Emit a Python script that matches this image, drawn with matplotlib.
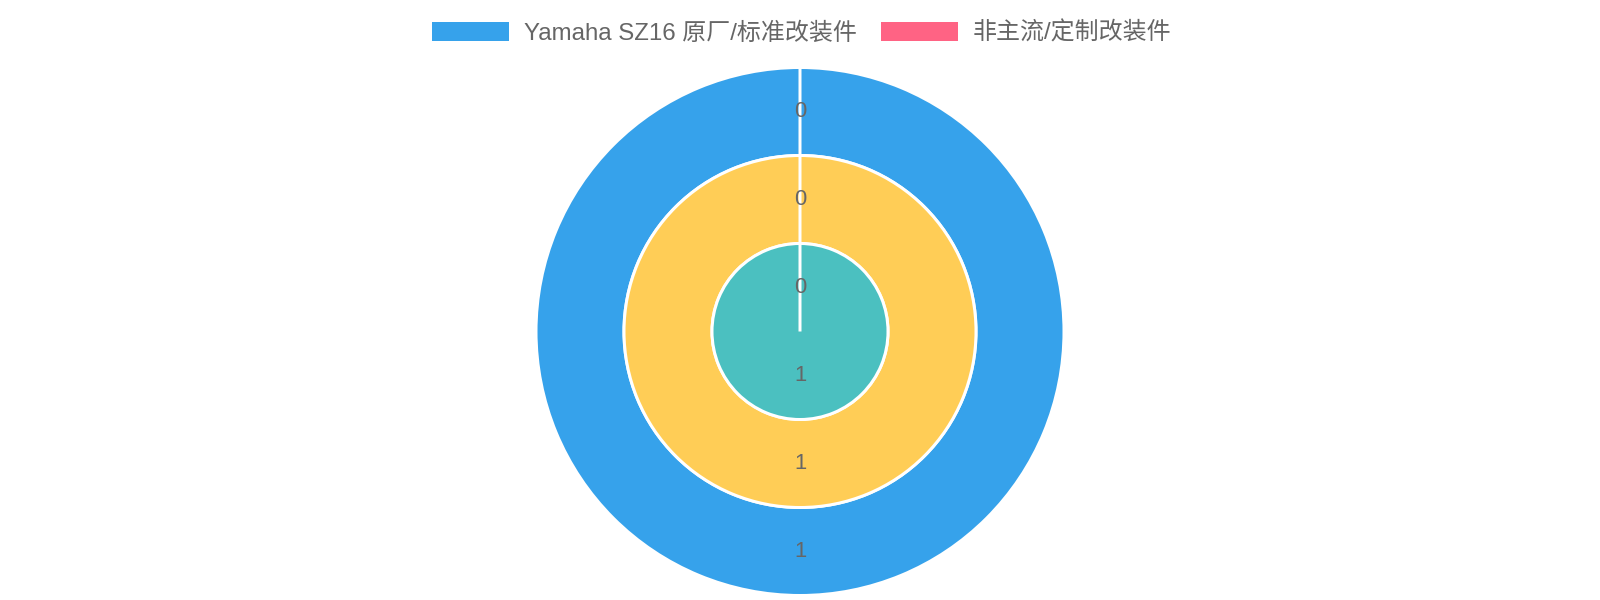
import matplotlib
matplotlib.use("Agg")
import matplotlib.pyplot as plt
from matplotlib.patches import Patch
import numpy as np

# ---- data ----
labels = ['Yamaha SZ16 原厂/标准改装件', '非主流/定制改装件']
outer_values = [1, 0]
middle_values = [1, 0]
inner_values = [1, 0]
outer_colors = ['#36A2EB', '#FF6384']
middle_colors = ['#FFCD56', '#4BC0C0']
inner_colors = ['#4BC0C0', '#9966FF']

plt.rcParams['font.family'] = ['Liberation Sans', 'Noto Sans CJK SC', 'DejaVu Sans']

W, H = 1600, 600
fig = plt.figure(figsize=(16, 6), dpi=100)
ax = fig.add_axes([0, 0, 1, 1])

cx, cy = 800, H - 331.5
R = 264.0
ring_w = R / 3
px = 72 / 100  # points per pixel

rings = [
    (outer_values, outer_colors, R, ring_w),
    (middle_values, middle_colors, R - ring_w, ring_w),
    (inner_values, inner_colors, R - 2 * ring_w, R - 2 * ring_w),
]

for vals, cols, radius, width in rings:
    wedges, _ = ax.pie(vals, colors=cols, radius=radius, center=(cx, cy),
                       startangle=90, counterclock=False,
                       wedgeprops=dict(width=width, edgecolor='white',
                                       linewidth=3 * px))
    for w, v in zip(wedges, vals):
        ang = np.deg2rad((w.theta1 + w.theta2) / 2)
        rr = radius - width / 2
        ax.text(cx + rr * np.cos(ang), cy + rr * np.sin(ang), str(v),
                ha='center', va='center', color='#666666',
                fontsize=22 * px)

ax.set_xlim(0, W)
ax.set_ylim(0, H)
ax.set_aspect('equal')
ax.axis('off')

fs = 24
handles = [Patch(facecolor=outer_colors[i], edgecolor='none') for i in range(len(labels))]
leg = fig.legend(handles, labels, loc='center', bbox_to_anchor=(802 / W, 1 - 33 / H),
                 ncol=2, frameon=False, fontsize=fs * px,
                 handlelength=77 / fs, handleheight=20 / fs,
                 handletextpad=15 / fs, columnspacing=24 / fs,
                 borderpad=0, borderaxespad=0)
for t in leg.get_texts():
    t.set_color('#666666')

fig.savefig('out.png', dpi=100)
